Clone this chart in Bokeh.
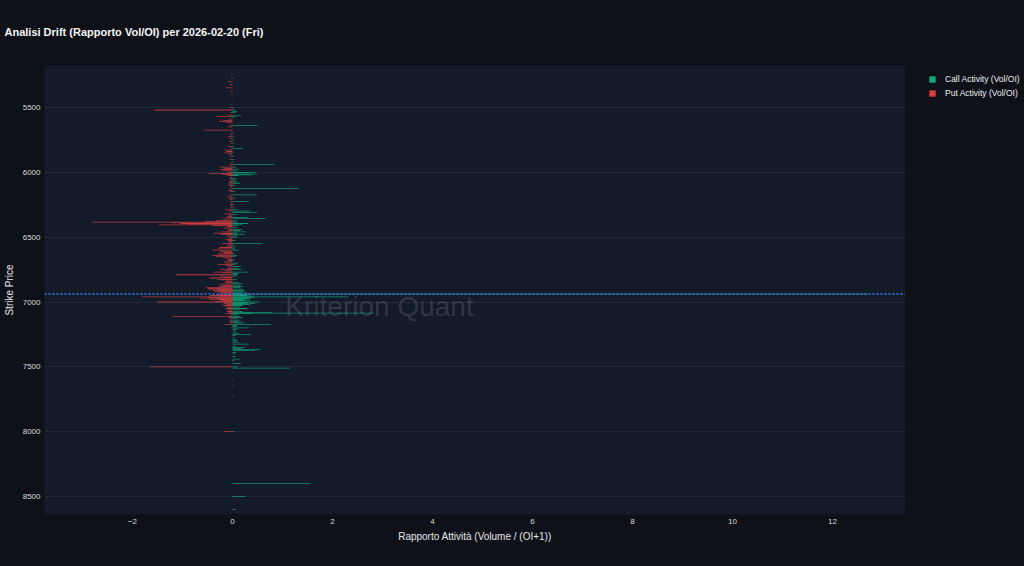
from bokeh.plotting import figure
from bokeh.layouts import row
from bokeh.models import (Range1d, Span, Label, Legend, LegendItem, ColumnDataSource,
                          FixedTicker, Title)
from bokeh.embed import file_html
from bokeh.resources import INLINE

title_text = "Analisi Drift (Rapporto Vol/OI) per 2026-02-20 (Fri)"
x_label = "Rapporto Attività (Volume / (OI+1))"
y_label = "Strike Price"
call_label = "Call Activity (Vol/OI)"
put_label = "Put Activity (Vol/OI)"
watermark = "Kriterion Quant"

x_ticks = [-2, 0, 2, 4, 6, 8, 10, 12]
y_ticks = [5500, 6000, 6500, 7000, 7500, 8000, 8500]
spot_price = 6938

call_strikes = [5270, 5320, 5400, 5450, 5500, 5520, 5530, 5540, 5565, 5570,
                5580, 5640, 5700, 5725, 5750, 5775, 5800, 5815, 5850, 5875,
                5900, 5920, 5940, 5960, 5975, 5990, 6000, 6005, 6015, 6020,
                6025, 6050, 6060, 6075, 6085, 6100, 6125, 6150, 6175, 6200,
                6225, 6250, 6275, 6290, 6300, 6310, 6325, 6350, 6355, 6375,
                6385, 6395, 6400, 6410, 6425, 6440, 6450, 6460, 6470, 6480,
                6490, 6500, 6525, 6550, 6560, 6575, 6590, 6600, 6625, 6640,
                6650, 6675, 6700, 6710, 6725, 6740, 6750, 6770, 6780, 6790,
                6800, 6825, 6850, 6860, 6870, 6880, 6890, 6900, 6910, 6920,
                6930, 6935, 6940, 6945, 6950, 6955, 6960, 6965, 6970, 6975,
                6980, 6985, 6990, 7000, 7005, 7010, 7015, 7020, 7025, 7030,
                7040, 7050, 7060, 7075, 7080, 7085, 7090, 7100, 7110, 7120,
                7125, 7140, 7150, 7160, 7175, 7180, 7190, 7200, 7210, 7225,
                7240, 7250, 7260, 7275, 7290, 7300, 7310, 7325, 7340, 7350,
                7360, 7365, 7375, 7390, 7400, 7420, 7440, 7450, 7475, 7500,
                7510, 7540, 7600, 7640, 7720, 7860, 8000, 8290, 8400, 8500,
                8600]
call_values = [0.02, 0.01, 0.01, 0.01, 0.03, 0.05, 0.09, 0.06, 0.17, 0.06,
               0.03, 0.50, 0.02, 0.02, 0.03, 0.04, 0.03, 0.20, 0.02, 0.03,
               0.04, 0.03, 0.83, 0.07, 0.13, 0.09, 0.47, 0.30, 0.49, 0.40,
               0.12, 0.08, 0.05, 0.10, 0.16, 0.04, 1.33, 0.05, 0.49, 0.04,
               0.33, 0.03, 0.04, 0.10, 0.36, 0.49, 0.08, 0.30, 0.66, 0.10,
               0.09, 0.31, 0.20, 0.12, 0.10, 0.19, 0.15, 0.26, 0.10, 0.24,
               0.09, 0.10, 0.06, 0.60, 0.03, 0.07, 0.05, 0.13, 0.04, 0.09,
               0.06, 0.04, 0.11, 0.06, 0.16, 0.10, 0.18, 0.31, 0.12, 0.10,
               0.09, 0.08, 0.13, 0.20, 0.16, 0.22, 0.15, 0.20, 0.25, 0.22,
               0.30, 0.18, 12.70, 0.35, 0.28, 0.40, 2.32, 0.45, 0.30, 0.36,
               0.22, 0.35, 0.25, 0.53, 0.30, 0.45, 0.25, 0.35, 0.20, 0.18,
               0.14, 0.30, 0.15, 0.20, 0.80, 2.82, 0.40, 0.12, 0.16, 0.20,
               0.10, 0.16, 0.12, 0.22, 0.77, 0.10, 0.08, 0.33, 0.10, 0.07,
               0.12, 0.36, 0.06, 0.04, 0.08, 0.10, 0.12, 0.33, 0.06, 0.25,
               0.18, 0.55, 0.45, 0.08, 0.05, 0.06, 0.14, 0.04, 0.17, 0.10,
               1.15, 0.02, 0.02, 0.02, 0.02, 0.01, 0.04, 0.01, 1.56, 0.26,
               0.07]

put_strikes = [5250, 5275, 5300, 5325, 5350, 5375, 5400, 5450, 5475, 5500,
               5520, 5540, 5560, 5570, 5590, 5600, 5610, 5620, 5640, 5650,
               5675, 5690, 5710, 5725, 5740, 5760, 5775, 5800, 5820, 5830,
               5840, 5850, 5860, 5880, 5900, 5925, 5940, 5950, 5960, 5970,
               5975, 5980, 5990, 6000, 6010, 6015, 6020, 6025, 6040, 6050,
               6060, 6075, 6080, 6090, 6100, 6110, 6125, 6140, 6150, 6175,
               6190, 6200, 6210, 6225, 6240, 6250, 6260, 6275, 6290, 6300,
               6320, 6330, 6340, 6350, 6360, 6370, 6380, 6385, 6390, 6395,
               6400, 6405, 6410, 6415, 6420, 6430, 6440, 6450, 6460, 6470,
               6475, 6480, 6490, 6500, 6510, 6520, 6525, 6530, 6540, 6550,
               6560, 6570, 6580, 6590, 6600, 6610, 6620, 6625, 6630, 6640,
               6650, 6660, 6670, 6680, 6690, 6700, 6710, 6720, 6730, 6740,
               6750, 6760, 6770, 6775, 6790, 6800, 6810, 6815, 6825, 6830,
               6840, 6850, 6860, 6870, 6875, 6880, 6890, 6895, 6900, 6905,
               6910, 6915, 6920, 6925, 6930, 6940, 6945, 6950, 6955, 6960,
               6965, 6970, 6975, 6980, 6985, 6990, 6995, 7000, 7005, 7010,
               7020, 7025, 7030, 7040, 7050, 7060, 7070, 7075, 7080, 7090,
               7100, 7110, 7120, 7125, 7140, 7150, 7160, 7175, 7200, 7250,
               7500, 8000]
put_values = [-0.02, -0.03, -0.09, -0.05, -0.13, -0.04, -0.02, -0.01, -0.03, -0.06,
              -1.57, -0.05, -0.10, -0.32, -0.08, -0.19, -0.27, -0.12, -0.04, -0.08,
              -0.56, -0.03, -0.05, -0.09, -0.06, -0.07, -0.05, -0.09, -0.04, -0.16,
              -0.12, -0.16, -0.08, -0.05, -0.06, -0.03, -0.06, -0.04, -0.25, -0.18,
              -0.12, -0.25, -0.20, -0.10, -0.47, -0.22, -0.15, -0.08, -0.04, -0.06,
              -0.05, -0.07, -0.05, -0.08, -0.07, -0.05, -0.06, -0.09, -0.04, -0.06,
              -0.11, -0.07, -0.04, -0.06, -0.03, -0.05, -0.04, -0.05, -0.15, -0.06,
              -0.16, -0.08, -0.10, -0.12, -0.20, -0.34, -0.55, -2.80, -1.20, -1.04,
              -0.90, -1.47, -0.40, -0.10, -0.12, -0.18, -0.08, -0.10, -0.22, -0.37,
              -0.15, -0.24, -0.12, -0.10, -0.06, -0.15, -0.10, -0.08, -0.07, -0.20,
              -0.10, -0.12, -0.26, -0.30, -0.40, -0.25, -0.18, -0.15, -0.30, -0.40,
              -0.33, -0.20, -0.12, -0.09, -0.17, -0.15, -0.30, -0.12, -0.09, -0.10,
              -0.25, -0.14, -0.38, -0.20, -1.13, -0.25, -0.15, -0.46, -0.30, -0.20,
              -0.14, -0.15, -0.22, -0.28, -0.18, -0.25, -0.52, -0.50, -0.48, -0.30,
              -0.40, -0.25, -0.35, -0.20, -0.28, -0.22, -0.30, -0.45, -0.25, -1.81,
              -0.50, -0.64, -0.30, -0.45, -0.25, -0.20, -0.35, -1.50, -0.15, -0.18,
              -0.12, -0.20, -0.15, -0.10, -0.14, -0.09, -0.12, -0.10, -0.08, -0.14,
              -0.06, -1.20, -0.08, -0.05, -0.05, -0.06, -0.04, -0.16, -0.03, -0.02,
              -1.66, -0.17]

PAPER = "#0e1117"
PLOT_BG = "#131a29"
CALL_COLOR = "#10b981"
PUT_COLOR = "#ef4444"
FONT = "Liberation Sans"

p = figure(width=905, height=564, output_backend="svg", toolbar_location=None,
           x_range=Range1d(-3.76, 13.46), y_range=Range1d(8638, 5177),
           background_fill_color=PLOT_BG, border_fill_color=PAPER,
           min_border_left=44, min_border_right=0, min_border_top=65, min_border_bottom=50)
p.outline_line_color = None

call_src = ColumnDataSource(dict(strike=call_strikes, value=call_values))
put_src = ColumnDataSource(dict(strike=put_strikes, value=put_values))

r_call = p.hbar(y="strike", left=0, right="value", height=6, source=call_src,
                fill_color=CALL_COLOR, fill_alpha=0.75, line_color=None)
r_put = p.hbar(y="strike", left=0, right="value", height=6, source=put_src,
               fill_color=PUT_COLOR, fill_alpha=0.75, line_color=None)

p.add_layout(Span(location=spot_price, dimension="width", line_color="#3b82f6",
                  line_width=1.5, line_dash="2 2"))

p.add_layout(Label(x=2.94, y=7038, text=watermark, text_font=FONT, text_font_size="28px",
                   text_color="#ffffff", text_alpha=0.13, text_align="center",
                   text_baseline="middle"))

# title: spacer first (closest to frame), real title above it
p.add_layout(Title(text=" ", text_font_size="10px"), "above")
p.add_layout(Title(text=title_text, text_font=FONT, text_font_size="11px",
                   text_font_style="bold", text_color="#f5f5f5", align="left",
                   offset=-40), "above")

# axes
for ax in (p.xaxis[0], p.yaxis[0]):
    ax.axis_line_color = None
    ax.major_tick_line_color = None
    ax.minor_tick_line_color = None
    ax.major_tick_out = 0
    ax.major_tick_in = 0
    ax.minor_tick_out = 0
    ax.minor_tick_in = 0
    ax.major_label_text_font = FONT
    ax.major_label_text_font_size = "8px"
    ax.major_label_text_color = "#d8dadf"
    ax.axis_label_text_font = FONT
    ax.axis_label_text_font_size = "10px"
    ax.axis_label_text_font_style = "normal"
    ax.axis_label_text_color = "#e5e7eb"
    ax.major_label_standoff = 4

p.xaxis[0].ticker = FixedTicker(ticks=x_ticks)
p.yaxis[0].ticker = FixedTicker(ticks=y_ticks)
p.xaxis[0].axis_label = x_label
p.yaxis[0].axis_label = y_label
p.xaxis[0].axis_label_standoff = 4
p.yaxis[0].axis_label_standoff = 5

p.xgrid.grid_line_color = None
p.ygrid.grid_line_color = "#1f2a38"
p.ygrid.grid_line_width = 1

# legend lives in a narrow companion figure whose frame is aligned with the plot frame
lf = figure(width=117, height=564, output_backend="svg", toolbar_location=None,
            x_range=Range1d(0, 1), y_range=Range1d(0, 1),
            x_axis_type=None, y_axis_type=None, min_border=0,
            background_fill_color=PAPER, border_fill_color=PAPER)
lf.outline_line_color = None
lf.grid.visible = False
# zero-width placeholder bars (invisible) so the legend has something to draw its swatch from
lg_call = lf.hbar(y=[-5], right=[0], left=0, height=0.1,
                  fill_color=CALL_COLOR, fill_alpha=0.9, line_color=None)
lg_put = lf.hbar(y=[-5], right=[0], left=0, height=0.1,
                 fill_color=PUT_COLOR, fill_alpha=0.9, line_color=None)

legend = Legend(items=[LegendItem(label=call_label, renderers=[lg_call]),
                       LegendItem(label=put_label, renderers=[lg_put])],
                location=(23, 414), orientation="vertical",
                background_fill_alpha=0, border_line_color=None,
                padding=0, margin=0, spacing=0,
                glyph_width=8, glyph_height=8, label_height=14,
                label_standoff=9, label_text_font=FONT, label_text_font_size="8.5px",
                label_text_color="#eceef2")
lf.add_layout(legend, "center")

layout = row(p, lf, spacing=0)

html = file_html(layout, INLINE)
html = html.replace("<body>", '<body style="background-color:#0e1117;">', 1)
html = html.replace("<html", '<html style="background-color:#0e1117;"', 1)
open("out.html", "w").write(html)
